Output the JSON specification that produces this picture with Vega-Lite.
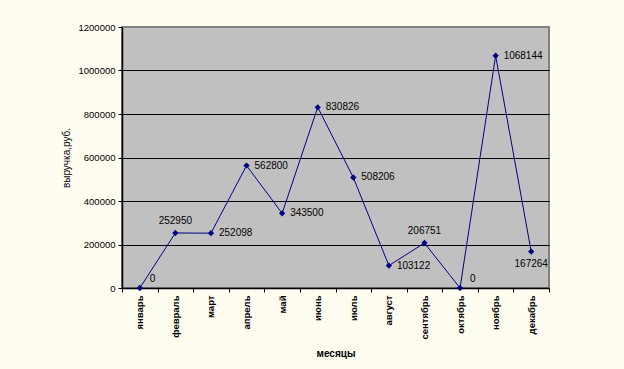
{
  "$schema": "https://vega.github.io/schema/vega-lite/v6.json",
  "autosize": {"type": "none"},
  "width": 427,
  "height": 261,
  "padding": {"left": 122, "top": 27, "right": 75, "bottom": 81},
  "background": "#FFFDF0",
  "config": {
    "font": "Liberation Sans",
    "view": {"fill": "#C0C0C0", "stroke": "#808080", "strokeWidth": 2}
  },
  "data": {
    "values": [
      {"month": "январь", "revenue": 0},
      {"month": "февраль", "revenue": 252950},
      {"month": "март", "revenue": 252098},
      {"month": "апрель", "revenue": 562800},
      {"month": "май", "revenue": 343500},
      {"month": "июнь", "revenue": 830826},
      {"month": "июль", "revenue": 508206},
      {"month": "август", "revenue": 103122},
      {"month": "сентябрь", "revenue": 206751},
      {"month": "октябрь", "revenue": 0},
      {"month": "ноябрь", "revenue": 1068144},
      {"month": "декабрь", "revenue": 167264}
    ]
  },
  "encoding": {
    "x": {
      "field": "month",
      "type": "ordinal",
      "sort": null,
      "scale": {"paddingInner": 0, "paddingOuter": 0},
      "axis": {
        "title": "месяцы",
        "titleFont": "Liberation Sans",
        "titleFontSize": 10,
        "titleFontWeight": "bold",
        "titleColor": "#000000",
        "titlePadding": 9,
        "labelAngle": -90,
        "labelFontSize": 9.5,
        "labelFontWeight": "bold",
        "labelColor": "#000000",
        "labelPadding": 3,
        "tickBand": "extent",
        "tickColor": "#000000",
        "tickSize": 4,
        "domainColor": "#000000",
        "domainWidth": 1.5,
        "grid": false
      }
    },
    "y": {
      "field": "revenue",
      "type": "quantitative",
      "scale": {"domain": [0, 1200000], "nice": false},
      "axis": {
        "title": "выручка,руб.",
        "titleFont": "Liberation Sans",
        "titleFontSize": 10,
        "titleFontWeight": "normal",
        "titleColor": "#000000",
        "titlePadding": 7,
        "values": [0, 200000, 400000, 600000, 800000, 1000000, 1200000],
        "format": "d",
        "labelFontSize": 9.5,
        "labelColor": "#000000",
        "labelPadding": 3,
        "tickColor": "#000000",
        "tickSize": 4,
        "domainColor": "#000000",
        "domainWidth": 1.5,
        "grid": true,
        "gridColor": {"condition": {"test": "datum.value === 1200000 || datum.value === 0", "value": "#808080"}, "value": "#000000"},
        "gridWidth": 1,
        "gridOpacity": 1
      }
    }
  },
  "layer": [
    {
      "mark": {"type": "line", "color": "#000080", "strokeWidth": 1}
    },
    {
      "mark": {"type": "point", "shape": "diamond", "filled": true, "color": "#000080", "size": 40, "opacity": 1}
    },
    {
      "transform": [{"filter": "indexof(['март','апрель','май','июнь','июль','август','ноябрь'], datum.month) >= 0"}],
      "mark": {"type": "text", "align": "left", "baseline": "middle", "dx": 8, "fontSize": 10, "color": "#000000"},
      "encoding": {"text": {"field": "revenue", "type": "quantitative", "format": "d"}}
    },
    {
      "transform": [{"filter": "indexof(['февраль','сентябрь'], datum.month) >= 0"}],
      "mark": {"type": "text", "align": "center", "baseline": "middle", "dy": -12, "fontSize": 10, "color": "#000000"},
      "encoding": {"text": {"field": "revenue", "type": "quantitative", "format": "d"}}
    },
    {
      "transform": [{"filter": "datum.month === 'декабрь'"}],
      "mark": {"type": "text", "align": "center", "baseline": "middle", "dy": 12, "fontSize": 10, "color": "#000000"},
      "encoding": {"text": {"field": "revenue", "type": "quantitative", "format": "d"}}
    },
    {
      "transform": [{"filter": "indexof(['январь','октябрь'], datum.month) >= 0"}],
      "mark": {"type": "text", "align": "left", "baseline": "middle", "dx": 10, "dy": -9, "fontSize": 10, "color": "#000000"},
      "encoding": {"text": {"field": "revenue", "type": "quantitative", "format": "d"}}
    }
  ]
}
